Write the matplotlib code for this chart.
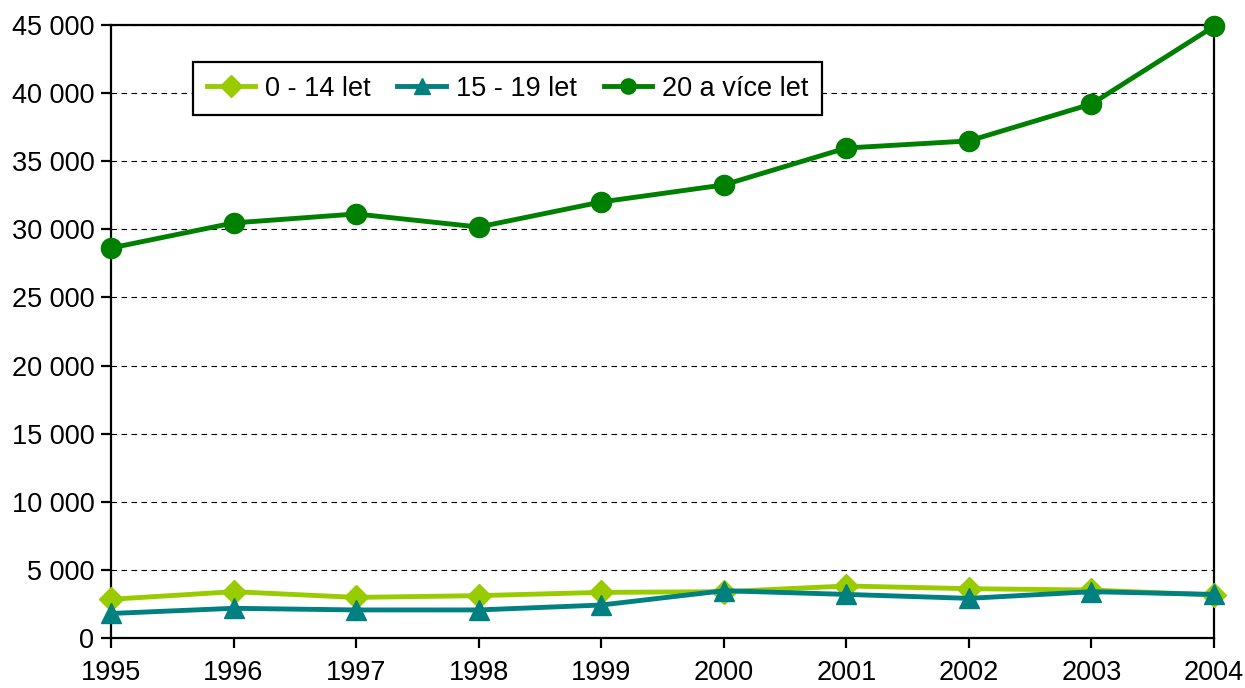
import matplotlib
matplotlib.use("Agg")
import matplotlib.pyplot as plt
from matplotlib.ticker import FuncFormatter

plt.rcParams['font.family'] = ['Liberation Sans', 'DejaVu Sans']

years = [1995, 1996, 1997, 1998, 1999, 2000, 2001, 2002, 2003, 2004]
age_0_14 = [2840, 3400, 2980, 3110, 3350, 3400, 3820, 3620, 3520, 3160]
age_15_19 = [1800, 2180, 2060, 2060, 2420, 3470, 3200, 2910, 3400, 3200]
age_20_plus = [28630, 30470, 31130, 30170, 32010, 33260, 35970, 36490, 39200, 44900]
labels = ["0 - 14 let", "15 - 19 let", "20 a více let"]
yticks = list(range(0, 45001, 5000))

fig = plt.figure(figsize=(12.45, 6.88), dpi=100)
ax = fig.add_axes([111/1245, 1-638/688, (1214-111)/1245, (638-25)/688])

ax.plot(years, age_0_14, color='#99CC00', lw=3.5, marker='D', ms=12, label=labels[0], zorder=3, clip_on=False)
ax.plot(years, age_15_19, color='#008080', lw=3.5, marker='^', ms=15, label=labels[1], zorder=3, clip_on=False)
ax.plot(years, age_20_plus, color='#008000', lw=3.5, marker='o', ms=14.5, label=labels[2], zorder=3, clip_on=False)

ax.set_xlim(1995, 2004)
ax.set_ylim(0, 45000)
ax.set_xticks(years)
ax.set_yticks(yticks)
ax.yaxis.set_major_formatter(FuncFormatter(lambda v, p: f"{int(v):,}".replace(",", " ")))
ax.grid(axis='y', color='black', ls=(0, (5, 4)), lw=0.8)
ax.set_axisbelow(True)
for s in ax.spines.values():
    s.set_linewidth(1.6)
    s.set_color('black')
ax.tick_params(axis='both', labelsize=19.5, width=1.6, length=7, direction='out', colors='black')
ax.tick_params(axis='x', pad=9)
ax.tick_params(axis='y', pad=5)

leg = ax.legend(loc='upper left', bbox_to_anchor=((193-111)/1103, (638-62)/613), ncol=3,
                fontsize=19.5, frameon=True, fancybox=False, edgecolor='black', framealpha=1,
                handlelength=1.8, handletextpad=0.35, columnspacing=1.0, borderpad=0.5,
                borderaxespad=0)
leg.get_frame().set_linewidth(1.6)
for h in leg.legend_handles:
    h.set_markersize(11)

fig.savefig("out.png", dpi=100)
